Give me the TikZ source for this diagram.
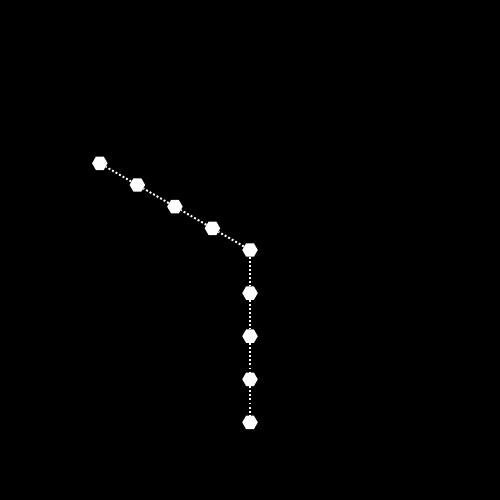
\documentclass[tikz,border=0pt]{standalone}
\usetikzlibrary{shapes.geometric, positioning, calc}

\begin{document}
\begin{tikzpicture}[
    hexnode/.style={regular polygon, regular polygon sides=6, draw=none,
                    fill=white, minimum size=0.31cm, inner sep=0pt},
    link/.style={white, line width=1.1pt, dash pattern=on 1.1pt off 1.2pt}
]
    \fill[black] (0,0) rectangle (10,10);
    \node[hexnode] (hub) at (5,5) {};
    % slanted arm
    \foreach \i in {1,...,4} {
        \node[hexnode] (a\i) at ($(hub)+(150:{0.867*\i})$) {};
    }
    % vertical arm
    \foreach \i in {1,...,4} {
        \node[hexnode] (b\i) at ($(hub)+(0,{-0.862*\i})$) {};
    }
    \draw[link] (hub) -- (a1);
    \draw[link] (a1) -- (a2);
    \draw[link] (a2) -- (a3);
    \draw[link] (a3) -- (a4);
    \draw[link] (hub) -- (b1);
    \draw[link] (b1) -- (b2);
    \draw[link] (b2) -- (b3);
    \draw[link] (b3) -- (b4);
\end{tikzpicture}
\end{document}
